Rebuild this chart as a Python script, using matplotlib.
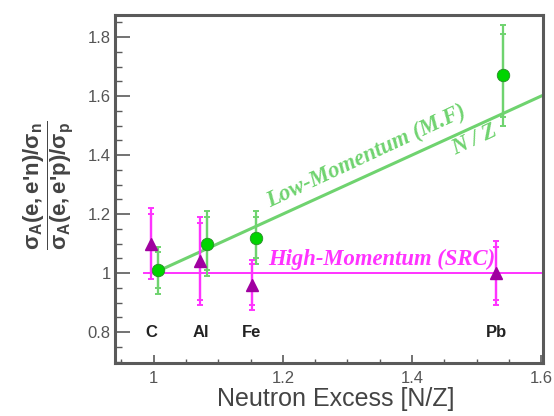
import matplotlib
matplotlib.use("Agg")
import matplotlib.pyplot as plt

plt.rcParams['font.family'] = ['Liberation Sans', 'DejaVu Sans']
plt.rcParams['mathtext.fontset'] = 'custom'
plt.rcParams['mathtext.rm'] = 'Liberation Sans:bold'
plt.rcParams['mathtext.it'] = 'Liberation Sans:bold'
plt.rcParams['mathtext.bf'] = 'Liberation Sans:bold'

# nuclei, neutron excess and the measured ratios
nuclei = ['C', 'Al', 'Fe', 'Pb']
nz = [1.0, 1.077, 1.155, 1.535]

# low-momentum (mean field) ratios, shifted right of N/Z
mf_x = [1.006, 1.082, 1.158, 1.541]
mf_y = [1.01, 1.10, 1.12, 1.67]
mf_stat = [0.06, 0.09, 0.07, 0.14]
mf_tot = [0.08, 0.11, 0.09, 0.17]

# high-momentum (SRC) ratios, shifted left of N/Z
src_x = [0.995, 1.071, 1.152, 1.530]
src_y = [1.10, 1.04, 0.96, 1.00]
src_stat = [0.10, 0.13, 0.07, 0.09]
src_tot = [0.12, 0.15, 0.085, 0.11]

# expectation lines
nz_line_x = [1.0, 1.6]
nz_line_y = [1.0, 1.6]
src_line_x = [0.985, 1.6]
src_line_y = [1.0, 1.0]

GREEN_LINE = '#6fd36f'
GREEN_MARK = '#00d400'
MAGENTA = '#ff33ff'
PURPLE = '#a000a0'
FRAME = '#5a5a5a'

fig = plt.figure(figsize=(5.54, 4.16), dpi=100)
ax = fig.add_axes([115 / 554, 1 - 363 / 416, 428 / 554, 348 / 416])

ax.plot(nz_line_x, nz_line_y, color=GREEN_LINE, lw=2.2, zorder=2)
ax.plot(src_line_x, src_line_y, color=MAGENTA, lw=1.4, zorder=2)

for err in (mf_tot, mf_stat):
    ax.errorbar(mf_x, mf_y, yerr=err, fmt='none', ecolor=GREEN_LINE,
                elinewidth=1.6, capsize=2.3, capthick=1.4, zorder=3)
for err in (src_tot, src_stat):
    ax.errorbar(src_x, src_y, yerr=err, fmt='none', ecolor=MAGENTA,
                elinewidth=1.6, capsize=2.3, capthick=1.4, zorder=3)

ax.plot(mf_x, mf_y, 'o', ms=9, color=GREEN_MARK, mec='#2a8a2a', mew=0.6,
        zorder=5)
ax.plot(src_x, src_y, '^', ms=9, color=PURPLE, mec=PURPLE, zorder=5)

for name, x in zip(nuclei, nz):
    ax.text(x - 0.004, 0.8, name, ha='center', va='center', fontsize=12,
            fontweight='bold', color='#222222')

serif = dict(family='Liberation Serif', style='italic', fontweight='bold',
             fontsize=16.3)
ax.text(1.330, 1.394, 'Low-Momentum (M.F)', color=GREEN_LINE, rotation=25,
        rotation_mode='anchor', ha='center', va='center', **serif)
ax.text(1.497, 1.450, 'N / Z', color=GREEN_LINE, rotation=25,
        rotation_mode='anchor', ha='center', va='center', **serif)
ax.text(1.177, 1.047, 'High-Momentum (SRC)', color=MAGENTA,
        ha='left', va='center', **serif)

ax.set_xlim(0.94, 1.603)
ax.set_ylim(0.695, 1.875)
ax.set_xticks([1.0, 1.2, 1.4, 1.6])
ax.set_xticklabels(['1', '1.2', '1.4', '1.6'])
ax.set_yticks([0.8, 1.0, 1.2, 1.4, 1.6, 1.8])
ax.set_yticklabels(['0.8', '1', '1.2', '1.4', '1.6', '1.8'])
ax.set_xticks([0.95 + 0.05 * i for i in range(13)], minor=True)
ax.set_yticks([0.7 + 0.05 * i for i in range(24)], minor=True)

ax.tick_params(axis='both', which='both', direction='in', colors=FRAME,
               labelcolor='#555555', labelsize=12)
ax.tick_params(axis='y', which='major', length=11, width=1.2, pad=3)
ax.tick_params(axis='y', which='minor', length=5, width=1.0)
ax.tick_params(axis='x', which='major', length=6, width=1.2, pad=6)
ax.tick_params(axis='x', which='minor', length=3, width=1.0)

for side in ax.spines.values():
    side.set_color(FRAME)
    side.set_linewidth(2.2)

ax.set_xlabel('Neutron Excess [N/Z]', fontsize=18, color='#444444')
ax.xaxis.set_label_coords(0.515, -0.068)
ax.set_ylabel(r"$\dfrac{\sigma_A(e,e\text{'}n)/\sigma_n}"
              r"{\sigma_A(e,e\text{'}p)/\sigma_p}$",
              fontsize=16, color='#444444')
ax.yaxis.set_label_coords(-0.09, 0.51)

fig.savefig('out.png', dpi=100)
